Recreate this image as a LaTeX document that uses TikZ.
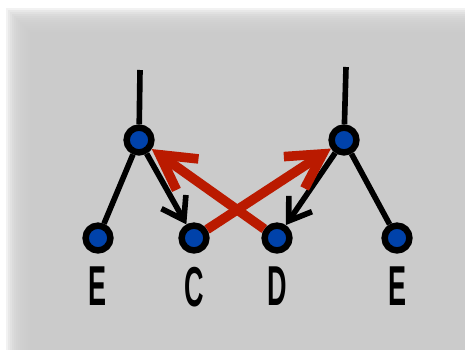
\documentclass[tikz,border=0pt]{standalone}
\usepackage{fontspec}
\usepackage{graphicx}
\usepackage{tikz}
\usetikzlibrary{
    positioning,
    arrows.meta
}
\newfontfamily\leaffont{Liberation Sans}
\definecolor{panelGray}{RGB}{203, 203, 203}
\definecolor{vertBlue}{RGB}{0, 66, 170}
\definecolor{moveRed}{RGB}{186, 26, 0}

\begin{document}
\begin{tikzpicture}[x=0.025cm, y=-0.025cm,
        vert/.style={circle, draw=black, line width=4.6pt, fill=vertBlue,
            inner sep=0pt, minimum size=0.62cm},
        edge/.style={line width=4pt, black},
        push/.style={edge, -{Straight Barb[length=0.52cm, width=0.7cm, line width=4pt]}},
        move/.style={line width=6.8pt, moveRed,
            -{Straight Barb[length=0.85cm, width=0.95cm, line width=6.8pt]}},
        lbl/.style={inner sep=0pt, font=\leaffont\bfseries\fontsize{40}{40}\selectfont}
    ]
        \useasboundingbox (0,0) rectangle (465,349);
        % Panel with soft edge
        \foreach \k in {0,...,11}
            \fill[panelGray, opacity=0.25] (6+2*\k, 8+2*\k) rectangle (490-2*\k, 372-2*\k);
        \fill[panelGray] (30, 32) rectangle (466, 350);

        % Vertices
        \node[vert] (lP) at (139, 140) {};
        \node[vert] (rP) at (344, 140) {};
        \node[vert] (eL) at (98, 238) {};
        \node[vert] (cL) at (194, 238) {};
        \node[vert] (dL) at (277, 238) {};
        \node[vert] (eR) at (397, 238) {};
        \coordinate (lTop) at (140, 70);
        \coordinate (rTop) at (346, 67);

        % Tree edges
        \draw[edge] (lTop) -- (lP);
        \draw[edge] (rTop) -- (rP);
        \draw[edge] (lP) -- (eL);
        \draw[push] (lP) -- (cL);
        \draw[push] (rP) -- (dL);
        \draw[edge] (rP) -- (eR);

        % Crossing moves
        \draw[move] (cL) -- (rP);
        \draw[move] (dL) -- (lP);

        % Leaf letters
        \node[lbl, below=0.33cm of eL] {\scalebox{0.48}[1]{E}};
        \node[lbl, below=0.33cm of cL] {\scalebox{0.48}[1]{C}};
        \node[lbl, below=0.33cm of dL] {\scalebox{0.48}[1]{D}};
        \node[lbl, below=0.33cm of eR] {\scalebox{0.48}[1]{E}};
    \end{tikzpicture}
\end{document}
